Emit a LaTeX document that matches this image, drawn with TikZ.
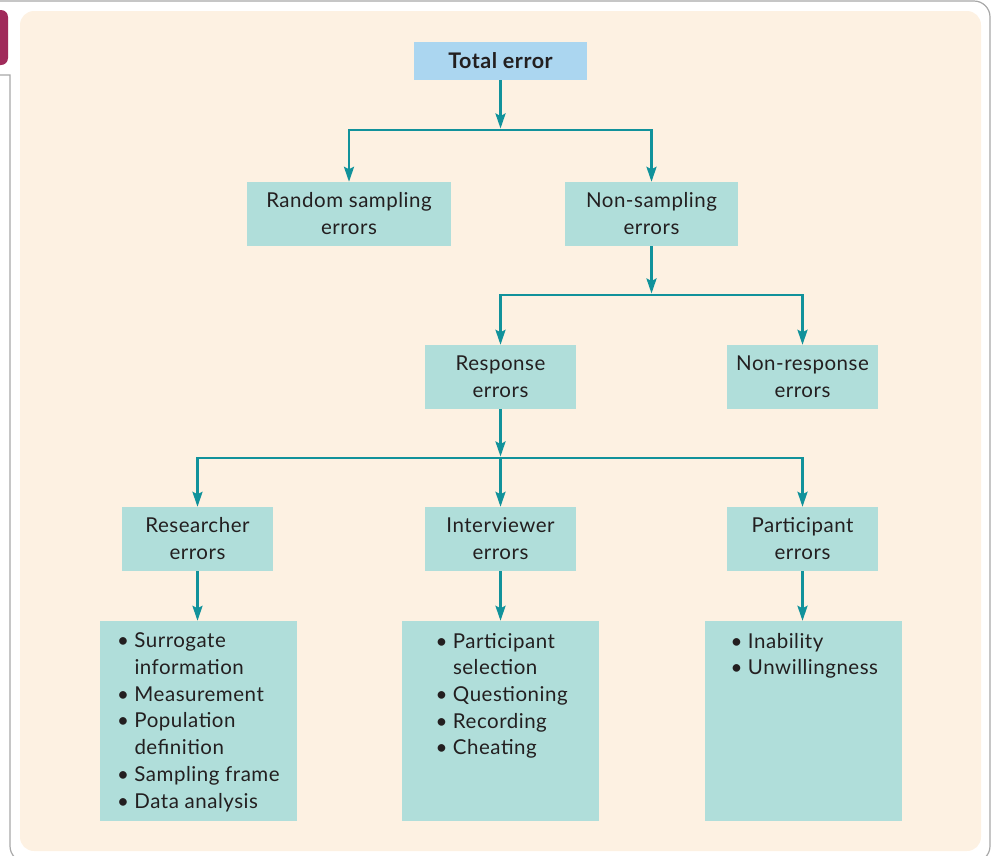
\documentclass[tikz,border=0pt]{standalone}
\usepackage{fontspec}
\setmainfont{Lato}[LetterSpace=2.5]
\usetikzlibrary{arrows.meta}

\definecolor{cream}{HTML}{FDF1E2}
\definecolor{tealbox}{HTML}{B0DEDA}
\definecolor{skybox}{HTML}{ABD6F0}
\definecolor{tealline}{HTML}{11929B}
\definecolor{maroon}{HTML}{A02A5A}
\definecolor{inkdark}{HTML}{231F20}
\definecolor{framegray}{HTML}{A8A8A8}

\tikzset{
  box/.style={fill=tealbox, inner sep=0pt, minimum width=151pt, minimum height=64pt,
    align=center, text=inkdark, font=\fontsize{20.5}{27}\selectfont},
  topbox/.style={fill=skybox, inner sep=0pt, minimum width=173pt, minimum height=38pt,
    text=inkdark, font=\fontsize{21.5}{23}\selectfont\bfseries},
  listbox/.style={fill=tealbox, inner sep=0pt, minimum width=197pt, minimum height=200pt},
  listtext/.style={anchor=north west, inner sep=0pt, align=left, text=inkdark,
    font=\fontsize{20.5}{26.7}\selectfont},
  conn/.style={draw=tealline, line width=2.5pt},
  arr/.style={conn, -{Stealth[length=15pt,width=10pt,inset=2.5pt]}},
}

\newcommand{\bul}{\makebox[17.5pt][l]{\textbullet}}
\newcommand{\nobul}{\hspace*{17.5pt}}

\begin{document}
\begin{tikzpicture}[x=1pt, y=-1pt]
  \useasboundingbox (0,0) rectangle (992,855);

  % page frame and tab
  \fill[maroon, rounded corners=7pt] (-12,10) rectangle (8,65);
  \draw[framegray, line width=1.2pt] (0,1) [rounded corners=16pt] -- (990,1) -- (990,862) -- (10,862) [sharp corners] -- (10,75) -- (0,75);

  % panel
  \fill[cream, rounded corners=14pt] (20,11) rectangle (981,851);

  % boxes
  \node[topbox] (total) at (500.5,61) {Total error};
  \node[box, minimum width=204pt] (rand) at (349,214) {Random sampling\\errors};
  \node[box, minimum width=173pt] (nons) at (651.5,214) {Non-sampling\\errors};
  \node[box] (resp) at (500.5,377) {Response\\errors};
  \node[box] (nonr) at (802.5,377) {Non-response\\errors};
  \node[box] (res) at (197.5,539) {Researcher\\errors};
  \node[box] (intv) at (500.5,539) {Interviewer\\errors};
  \node[box] (part) at (802.5,539) {Participant\\errors};

  % lists
  \node[listbox] (l1) at (198.5,721) {};
  \node[listbox] (l2) at (500,721) {};
  \node[listbox] (l3) at (803,721) {};
  \node[listtext] (l1t) at ([xshift=17pt, yshift=-12pt]l1.north west)
    {\bul Surrogate\\\nobul information\\\bul Measurement\\\bul Population\\\nobul definition\\\bul Sampling frame\\\bul Data analysis};
  \node[listtext] (l2t) at ([xshift=34pt, yshift=-12pt]l2.north west)
    {\bul Participant\\\nobul selection\\\bul Questioning\\\bul Recording\\\bul Cheating};
  \node[listtext] (l3t) at ([xshift=26pt, yshift=-12pt]l3.north west)
    {\bul Inability\\\bul Unwillingness};

  % junctions
  \coordinate (j1) at (500.5,130);
  \coordinate (j2) at (651.5,295);
  \coordinate (j3) at (500.5,458);

  % connectors
  \draw[arr] (total.south) -- ([yshift=1.5pt]j1);
  \draw[arr] (j1) -| (rand.north);
  \draw[arr] (j1) -| (nons.north);
  \draw[arr] (nons.south) -- ([yshift=1.5pt]j2);
  \draw[arr] (j2) -| (resp.north);
  \draw[arr] (j2) -| (nonr.north);
  \draw[arr] (resp.south) -- ([yshift=1.5pt]j3);
  \draw[arr] (j3) -| (res.north);
  \draw[arr] (j3) -- (intv.north);
  \draw[arr] (j3) -| (part.north);
  \draw[arr] (res.south) -- (res.south |- l1.north);
  \draw[arr] (intv.south) -- (intv.south |- l2.north);
  \draw[arr] (part.south) -- (part.south |- l3.north);
\end{tikzpicture}
\end{document}
